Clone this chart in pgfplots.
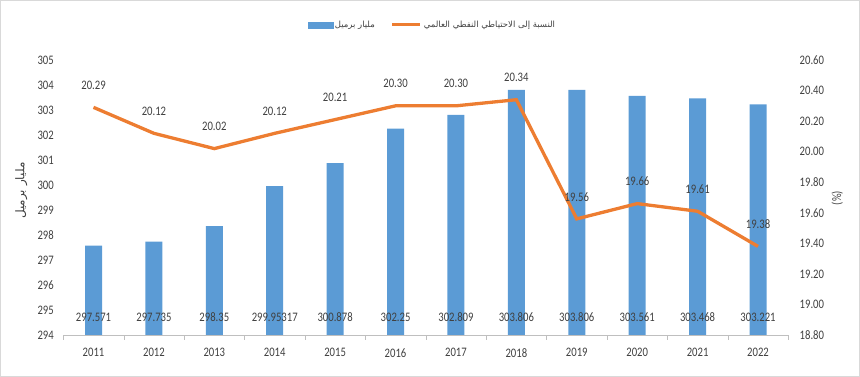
\documentclass[border=0pt]{standalone}
\usepackage{pgfplots}
\pgfplotsset{compat=1.18}
\usepackage{pgfplotstable}
\usepackage{fontspec}
\setmainfont{Carlito}
\newfontfamily\numfont{Carlito}[FakeStretch=0.82]
\newfontfamily\arabicfont[Script=Arabic]{DejaVu Sans}
\TeXXeTstate=1
\newcommand\nf{\numfont\fontsize{13}{15}\selectfont}
\definecolor{barblue}{HTML}{5B9BD5}
\definecolor{lineorange}{HTML}{ED7D31}
\definecolor{txt}{HTML}{404040}

\pgfplotstableread{
x val label
0 297.571 297.571
1 297.735 297.735
2 298.35 298.35
3 299.95317 299.95317
4 300.878 300.878
5 302.25 302.25
6 302.809 302.809
7 303.806 303.806
8 303.806 303.806
9 303.561 303.561
10 303.468 303.468
11 303.221 303.221
}\bardata

\pgfplotstableread{
x val label
0 20.29 20.29
1 20.12 20.12
2 20.02 20.02
3 20.12 20.12
4 20.21 20.21
5 20.30 20.30
6 20.30 20.30
7 20.34 20.34
8 19.56 19.56
9 19.66 19.66
10 19.61 19.61
11 19.38 19.38
}\linedata

\begin{document}
\begin{tikzpicture}
\draw[gray!30, line width=0.8pt] (0.4pt,0.4pt) rectangle (859.6pt,376.6pt);
\begin{axis}[
  at={(63.3pt,42pt)}, anchor=south west, scale only axis,
  width=724.9pt, height=275pt,
  xmin=-0.5, xmax=11.5, ymin=294, ymax=305,
  ytick={294,295,...,305},
  xtick={0,...,11},
  xticklabels={2011,2012,2013,2014,2015,2016,2017,2018,2019,2020,2021,2022},
  minor xtick={-0.5,0.5,...,11.5},
  axis x line*=bottom, axis y line*=left,
  y axis line style={draw=none},
  x axis line style={draw=gray!50},
  major tick length=0pt, minor tick length=5pt, tick align=outside,
  minor tick style={gray!50},
  /pgf/number format/assume math mode=true,
  tick label style={font=\nf, text=txt},
  yticklabel style={xshift=-6pt},
  xticklabel style={yshift=-10pt},
  ylabel={\arabicfont\fontsize{12}{14}\selectfont\beginR مليار برميل\endR},
  ylabel style={at={(axis description cs:0,0.525)}, yshift=42pt, anchor=center, text=txt},
]
\addplot[ybar, bar width=17pt, fill=barblue, draw=none,
  nodes near coords, point meta=explicit symbolic,
  visualization depends on={y \as \rawy},
  every node near coord/.append style={font=\nf, text=txt, anchor=center,
     shift={(axis direction cs:0,{294.71-\rawy})}}]
  table[x=x, y=val, meta=label]{\bardata};
\end{axis}
\begin{axis}[
  at={(63.3pt,42pt)}, anchor=south west, scale only axis,
  width=724.9pt, height=275pt,
  xmin=-0.5, xmax=11.5, ymin=18.8, ymax=20.6,
  ytick={18.8,19.0,19.2,19.4,19.6,19.8,20.0,20.2,20.4,20.6},
  yticklabel style={/pgf/number format/fixed, /pgf/number format/fixed zerofill, /pgf/number format/precision=2, xshift=8pt},
  axis y line*=right, axis x line=none,
  y axis line style={draw=none},
  major tick length=0pt,
  /pgf/number format/assume math mode=true,
  tick label style={font=\nf, text=txt},
  ylabel={(\%)},
  ylabel style={at={(axis description cs:1,0.498)}, yshift=-49pt, anchor=center, text=txt, font=\nf},
  legend columns=2,
  legend style={draw=none, fill=none, at={(0.509,1)}, anchor=center, yshift=35pt,
     font=\arabicfont\fontsize{8.5}{10}\selectfont, text=txt,
     /tikz/every even column/.append style={column sep=14pt}},
]
\addlegendimage{legend image code/.code={\fill[barblue] (0pt,-3pt) rectangle (25pt,3pt);}}
\addlegendentry{\beginR مليار برميل\endR}
\addplot[lineorange, line width=3.3pt, no markers,
  nodes near coords, point meta=explicit symbolic,
  every node near coord/.append style={font=\nf, text=txt, anchor=center, yshift=22pt},
  legend image code/.code={\draw[lineorange, line width=3pt] (0pt,0pt) -- (28pt,0pt);}]
  table[x=x, y=val, meta=label]{\linedata};
\addlegendentry{\beginR النسبة إلى الاحتياطي النفطي العالمي\endR}
\end{axis}
\end{tikzpicture}
\end{document}
